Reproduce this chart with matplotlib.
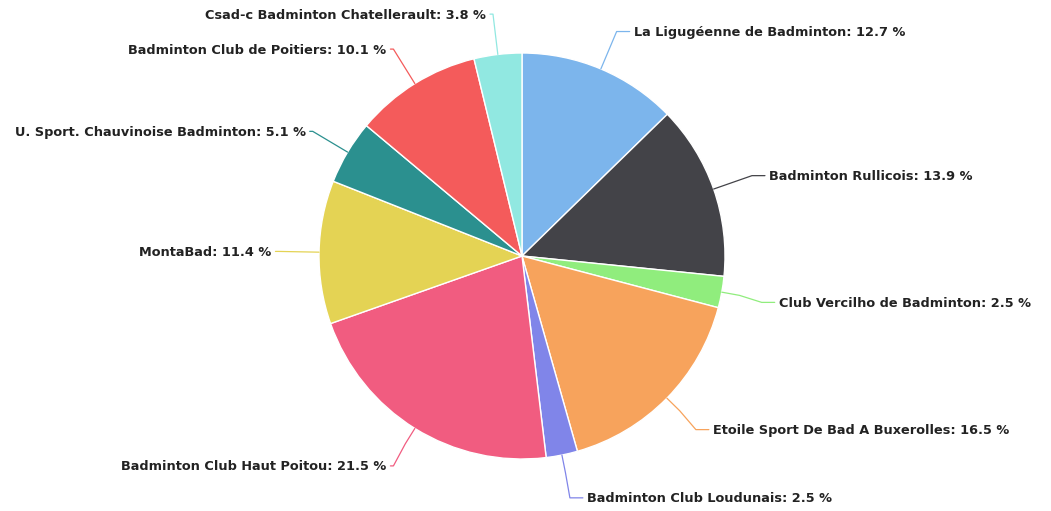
import numpy as np
import matplotlib
matplotlib.use("Agg")
import matplotlib.pyplot as plt

clubs = [
    "La Ligugéenne de Badminton",
    "Badminton Rullicois",
    "Club Vercilho de Badminton",
    "Etoile Sport De Bad A Buxerolles",
    "Badminton Club Loudunais",
    "Badminton Club Haut Poitou",
    "MontaBad",
    "U. Sport. Chauvinoise Badminton",
    "Badminton Club de Poitiers",
    "Csad-c Badminton Chatellerault",
]
shares = [12.7, 13.9, 2.5, 16.5, 2.5, 21.5, 11.4, 5.1, 10.1, 3.8]
colors = ["#7cb5ec", "#434348", "#90ed7d", "#f7a35c", "#8085e9",
          "#f15c80", "#e4d354", "#2b908f", "#f45b5b", "#91e8e1"]

W, H = 1051, 511
fig = plt.figure(figsize=(W / 100, H / 100), dpi=100)
ax = fig.add_axes([0, 0, 1, 1])

cx, cy, r = 522, 255, 203
wedges, _ = ax.pie(shares, colors=colors, startangle=90, counterclock=False,
                   center=(cx, cy), radius=r,
                   wedgeprops=dict(edgecolor="white", linewidth=1))
ax.set_xlim(0, W)
ax.set_ylim(0, H)
ax.set_aspect("equal")
ax.axis("off")

R = r * 1.2
for w, name, val, col in zip(wedges, clubs, shares, colors):
    ang = np.deg2rad((w.theta1 + w.theta2) / 2)
    ex, ey = cx + r * np.cos(ang), cy + r * np.sin(ang)
    mx, my = cx + (r + 18) * np.cos(ang), cy + (r + 18) * np.sin(ang)
    lx, ly = cx + R * np.cos(ang), cy + R * np.sin(ang)
    if np.sin(ang) < 0:
        ly -= 3
    right = np.cos(ang) >= 0
    sgn = 1 if right else -1
    off = 17 if right else 7
    ax.plot([ex, mx, lx, lx + sgn * (off - 4)], [ey, my, ly, ly], color=col, lw=0.9,
            solid_capstyle="round")
    ax.text(lx + sgn * off, ly - 1, f"{name}: {val} %", ha="left" if right else "right",
            va="center", fontsize=9.25, fontweight="bold", color="#222222",
            family="DejaVu Sans")

fig.savefig("out.png", dpi=100, facecolor="white")
